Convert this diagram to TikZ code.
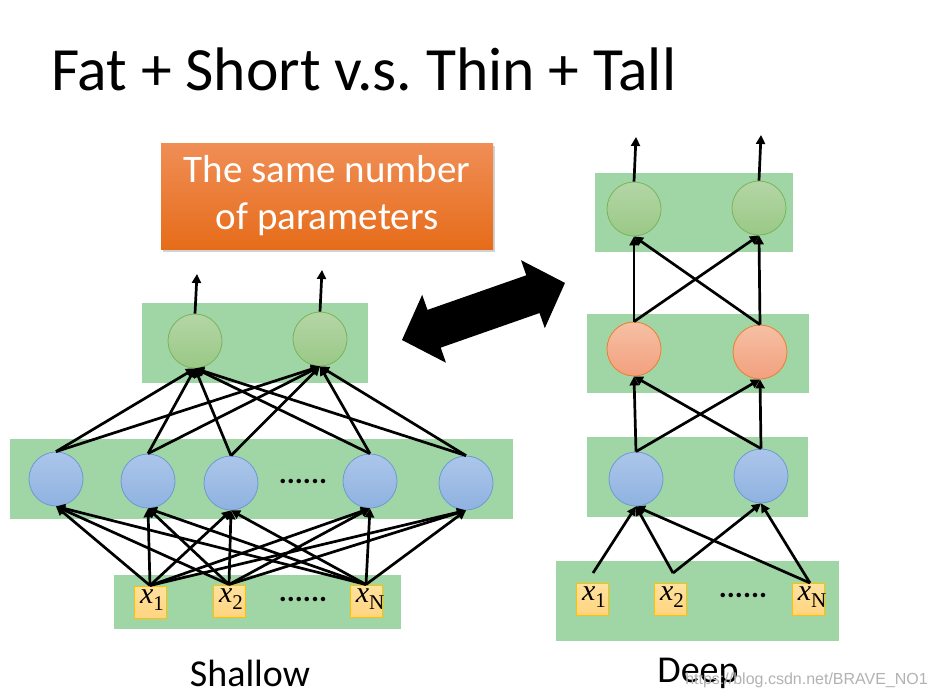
\documentclass[tikz,border=0pt]{standalone}
\usepackage{fontspec}
\setmainfont{Carlito}
\newfontfamily\tmsfont{Liberation Serif}
\newfontfamily\arialfont{Liberation Sans}
\usetikzlibrary{arrows.meta,shadows}
\definecolor{layergreen}{RGB}{160,213,165}
\definecolor{bluetop}{RGB}{172,198,234}
\definecolor{bluebot}{RGB}{143,178,224}
\definecolor{bluebd}{RGB}{107,155,210}
\definecolor{greentop}{RGB}{180,214,166}
\definecolor{greenbot}{RGB}{154,200,134}
\definecolor{greenbd}{RGB}{122,180,90}
\definecolor{orgtop}{RGB}{246,192,164}
\definecolor{orgbot}{RGB}{242,160,126}
\definecolor{orgbd}{RGB}{237,125,49}
\definecolor{inptop}{RGB}{255,226,158}
\definecolor{inpbot}{RGB}{255,212,128}
\definecolor{inpbd}{RGB}{255,192,0}
\definecolor{boxtop}{RGB}{240,142,86}
\definecolor{boxbot}{RGB}{230,108,26}
\newcommand{\inlabel}[1]{{\tmsfont\fontsize{30}{30}\selectfont\itshape x}\raisebox{-7pt}{\tmsfont\fontsize{21}{21}\selectfont #1}}
\begin{document}
\begin{tikzpicture}[x=1pt,y=-1pt,
  layer/.style={fill=layergreen,draw=none},
  neuron/.style={circle,minimum size=54pt,inner sep=0pt,line width=0.8pt},
  hid/.style={neuron,draw=bluebd,top color=bluetop,bottom color=bluebot},
  outn/.style={neuron,draw=greenbd,top color=greentop,bottom color=greenbot},
  midn/.style={neuron,draw=orgbd,top color=orgtop,bottom color=orgbot},
  inp/.style={rectangle,minimum size=32pt,inner sep=0pt,line width=1pt,draw=inpbd,top color=inptop,bottom color=inpbot},
  conn/.style={line width=2.7pt,-{Triangle[length=9pt,width=9pt]}},
  dots/.style={font=\fontsize{30}{30}\selectfont\bfseries}
]
\useasboundingbox (0,0) rectangle (937,699);
\fill[white] (0,0) rectangle (937,699);

% title
\node[anchor=base west,inner sep=0pt,font=\fontsize{61.5}{61.5}\selectfont] (title) at (51,90) {Fat + Short v.s.\ Thin + Tall};

% orange box
\node[top color=boxtop,bottom color=boxbot,minimum width=332pt,minimum height=106pt,inner sep=0pt,
  drop shadow={opacity=0.35,shadow xshift=2pt,shadow yshift=-3pt},
  text=white,align=center,font=\fontsize{39}{47}\selectfont] (box) at (327,196) {The same number\\of parameters};

% ===== Shallow =====
\fill[layer] (142,303) rectangle (368,383);
\fill[layer] (10,439) rectangle (513,519);
\fill[layer] (114,575) rectangle (401,629);

\node[outn] (so1) at (195,341) {};
\node[outn] (so2) at (320,339) {};
\node[hid] (sh1) at (56,479) {};
\node[hid] (sh2) at (148,481) {};
\node[hid] (sh3) at (231,483) {};
\node[hid] (sh4) at (370,481) {};
\node[hid] (sh5) at (466,483) {};
\node[dots] (sdh) at (303,481) {......};
\node[inp] (sx1) at (150,602) {};
\node[inp] (sx2) at (229,601) {};
\node[inp] (sxN) at (366,601) {};
\node (lx1) at (152,600) {\inlabel{1}};
\node (lx2) at (231,599) {\inlabel{2}};
\node (lxN) at (370,599) {\inlabel{N}};
\node[dots] (sdx) at (303,599) {......};

\foreach \i in {sx1,sx2,sxN}
  \foreach \j in {sh1,sh2,sh3,sh4,sh5}
    \draw[conn] (\i.north) -- (\j.south);
\foreach \j in {sh1,sh2,sh3,sh4,sh5}
  \foreach \k in {so1,so2}
    \draw[conn] (\j.north) -- (\k.south);
\coordinate (sa1) at (197,274);
\coordinate (sa2) at (322,270);
\draw[conn] (so1.north) -- (sa1);
\draw[conn] (so2.north) -- (sa2);

\node[font=\fontsize{38}{38}\selectfont] (shallow) at (250,673) {Shallow};

% ===== Deep =====
\fill[layer] (595,173) rectangle (793,252);
\fill[layer] (587,314) rectangle (809,393);
\fill[layer] (587,437) rectangle (808,517);
\fill[layer] (556,561) rectangle (839,641);

\node[outn] (dg1) at (634,209) {};
\node[outn] (dg2) at (759,208) {};
\node[midn] (do1) at (634,349) {};
\node[midn] (do2) at (760,352) {};
\node[hid] (db1) at (636,479) {};
\node[hid] (db2) at (761,476) {};
\node[inp] (dx1) at (592,599) {};
\node[inp] (dx2) at (670,599) {};
\node[inp] (dxN) at (808,599) {};
\node (ldx1) at (594,597) {\inlabel{1}};
\node (ldx2) at (672,597) {\inlabel{2}};
\node (ldxN) at (812,597) {\inlabel{N}};
\node[dots] (ddx) at (743,595) {......};

\coordinate (ds1) at (593,573);
\coordinate (ds2) at (673,573);
\coordinate (dsN) at (810,583);
\draw[conn] (ds1) -- (db1.south);
\draw[conn] (ds2) -- (db1.south);
\draw[conn] (ds2) -- (db2.south);
\draw[conn] (dsN) -- (db1.south);
\draw[conn] (dsN) -- (db2.south);
\foreach \j in {db1,db2}
  \foreach \k in {do1,do2}
    \draw[conn] (\j.north) -- (\k.south);
\foreach \j in {do1,do2}
  \foreach \k in {dg1,dg2}
    \draw[conn] (\j.north) -- (\k.south);
\coordinate (da1) at (636,137);
\coordinate (da2) at (761,135);
\draw[conn] (dg1.north) -- (da1);
\draw[conn] (dg2.north) -- (da2);

\node[font=\fontsize{38}{38}\selectfont] (deep) at (698,673) {Deep};

% big double arrow
\begin{scope}[shift={(402,340)},rotate=19.3]
\fill[black] (0,0) -- (34,36) -- (34,20) -- (138.7,20) -- (138.7,36) -- (172.7,0)
  -- (138.7,-36) -- (138.7,-20) -- (34,-20) -- (34,-36) -- cycle;
\end{scope}

% watermark
\node[anchor=base east,inner sep=0pt,text=black!30,font=\arialfont\fontsize{16}{16}\selectfont] (wm) at (928,684) {https://blog.csdn.net/BRAVE\_NO1};
\end{tikzpicture}
\end{document}
